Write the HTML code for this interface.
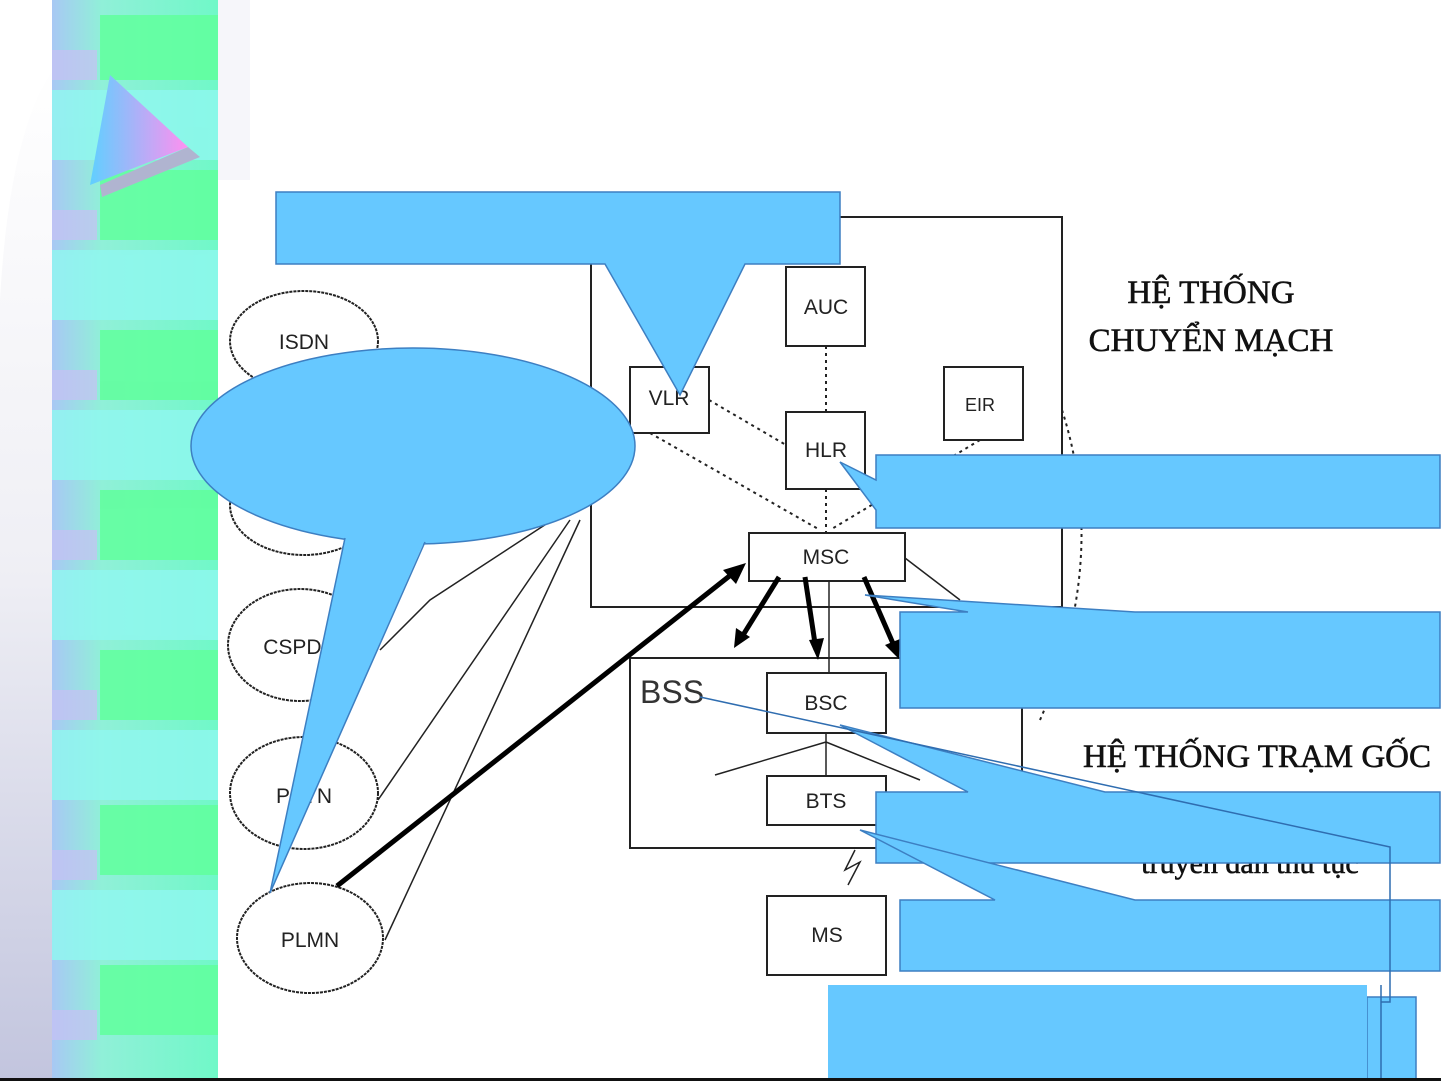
<!DOCTYPE html>
<html><head><meta charset="utf-8"><style>
html,body{margin:0;padding:0;background:#fff;}
svg{display:block;}
</style></head><body>
<svg width="1441" height="1081" viewBox="0 0 1441 1081" xmlns="http://www.w3.org/2000/svg" font-family="Liberation Sans, sans-serif">
<defs>
<linearGradient id="lg" x1="0" y1="0" x2="0" y2="1">
<stop offset="0" stop-color="#ffffff"/><stop offset="0.5" stop-color="#e8e8f0"/><stop offset="1" stop-color="#a8acd0"/>
</linearGradient>
<linearGradient id="tri" x1="0" y1="0" x2="1" y2="0">
<stop offset="0" stop-color="#60cfff"/><stop offset="1" stop-color="#ff90f0"/>
</linearGradient>
<linearGradient id="sb" x1="0" y1="0" x2="1" y2="0">
<stop offset="0" stop-color="#a8c8f4"/><stop offset="0.3" stop-color="#90f0d8"/><stop offset="1" stop-color="#70f8c8"/>
</linearGradient>
</defs>
<path d="M0 1081 L0 300 Q10 120 60 60 L230 60 Q250 120 250 180 L218 180 L218 1081 Z" fill="url(#lg)" opacity="0.7"/>
<rect x="52" y="0" width="166" height="1081" fill="url(#sb)"/>
<g fill="#60ff9c" opacity="0.85">
<rect x="100" y="15" width="118" height="65"/><rect x="100" y="170" width="118" height="70"/>
<rect x="100" y="330" width="118" height="70"/><rect x="100" y="490" width="118" height="70"/>
<rect x="100" y="650" width="118" height="70"/><rect x="100" y="805" width="118" height="70"/>
<rect x="100" y="965" width="118" height="70"/>
</g>
<g fill="#90f8f0" opacity="0.8">
<rect x="52" y="90" width="166" height="70"/><rect x="52" y="250" width="166" height="70"/>
<rect x="52" y="410" width="166" height="70"/><rect x="52" y="570" width="166" height="70"/>
<rect x="52" y="730" width="166" height="70"/><rect x="52" y="890" width="166" height="70"/>
</g>
<g fill="#c8c0f4" opacity="0.7">
<rect x="52" y="50" width="45" height="30"/><rect x="52" y="210" width="45" height="30"/><rect x="52" y="370" width="45" height="30"/>
<rect x="52" y="530" width="45" height="30"/><rect x="52" y="690" width="45" height="30"/><rect x="52" y="850" width="45" height="30"/><rect x="52" y="1010" width="45" height="30"/>
</g>
<rect x="218" y="0" width="32" height="180" fill="#f6f6fa"/>
<polygon points="102,197 200,157 188,147 100,185" fill="#b0b4d0"/>
<polygon points="90,185 110,75 188,147" fill="url(#tri)"/>

<g fill="none" stroke="#222" stroke-width="2">
<rect x="591" y="217" width="471" height="390"/>
<rect x="786" y="267" width="79" height="79"/>
<rect x="630" y="367" width="79" height="66"/>
<rect x="786" y="412" width="79" height="77"/>
<rect x="944" y="367" width="79" height="73"/>
<rect x="749" y="533" width="156" height="48"/>
<path d="M1022 848 L630 848 L630 658 L1022 658 L1022 848"/>
<rect x="767" y="673" width="119" height="60"/>
<rect x="767" y="776" width="119" height="49"/>
<rect x="767" y="896" width="119" height="79"/>
<ellipse cx="304" cy="341" rx="74" ry="50" stroke-dasharray="3,1"/>
<ellipse cx="304" cy="505" rx="74" ry="50" stroke-dasharray="3,1"/>
<ellipse cx="300" cy="645" rx="72" ry="56" stroke-dasharray="3,1"/>
<ellipse cx="304" cy="793" rx="74" ry="56" stroke-dasharray="3,1"/>
<ellipse cx="310" cy="938" rx="73" ry="55" stroke-dasharray="3,1"/>
</g>
<g stroke="#222" stroke-width="1.5" fill="none">
<path d="M380 650 L430 600 L560 515"/>
<path d="M378 800 L570 520"/>
<path d="M385 940 L580 520"/>
<path d="M829 581 L829 673"/>
<path d="M826 733 L826 776 M826 742 L715 775 M826 742 L920 780"/>
<path d="M905 558 L960 600"/>
<path d="M855 850 L845 870 L860 862 L848 885"/>
</g>
<g stroke="#222" stroke-width="2" stroke-dasharray="3,4" fill="none">
<path d="M826 346 L826 412"/>
<path d="M709 400 L786 445"/>
<path d="M650 433 L820 530"/>
<path d="M826 489 L826 533"/>
<path d="M980 440 L830 530"/>
<path d="M1062 410 Q1110 560 1040 720"/>
</g>
<g font-size="21" fill="#222" text-anchor="middle">
<text x="826" y="314">AUC</text>
<text x="669" y="405">VLR</text>
<text x="826" y="457">HLR</text>
<text x="980" y="411" font-size="18">EIR</text>
<text x="826" y="564">MSC</text>
<text x="826" y="710">BSC</text>
<text x="826" y="808">BTS</text>
<text x="827" y="942">MS</text>
<text x="304" y="349">ISDN</text>
<text x="300" y="654">CSPDN</text>
<text x="304" y="803">PSTN</text>
<text x="310" y="947">PLMN</text>
</g>
<text x="640" y="703" font-size="32" fill="#333">BSS</text>
<g font-family="Liberation Serif, serif" font-size="33" fill="#111" text-anchor="middle" stroke="#111" stroke-width="0.6">
<text x="1211" y="303">HỆ THỐNG</text>
<text x="1211" y="351">CHUYỂN MẠCH</text>
<text x="1257" y="767">HỆ THỐNG TRẠM GỐC</text>
<text x="1250" y="873" font-size="30">truyền dẫn thủ tục</text>
</g>
<g stroke="#000" stroke-width="5" fill="none">
<path d="M337 886 L732 574"/>
<path d="M779 577 L740 640"/>
<path d="M805 577 L816 650"/>
<path d="M864 577 L895 648"/>
</g>
<g fill="#000">
<polygon points="746,563 723,570 736,584"/>
<polygon points="734,648 736,628 750,637"/>
<polygon points="818,660 809,640 824,638"/>
<polygon points="899,659 885,645 900,639"/>
</g>
<g fill="#66c8ff" stroke="#3d7fc2" stroke-width="1.5">
<path d="M276 192 L840 192 L840 264 L745 264 L680 395 L605 264 L276 264 Z"/>
<ellipse cx="413" cy="446" rx="222" ry="98"/>
<polygon points="345,536 270,893 425,540" stroke="none"/>
<path d="M345 538 L270 893 L425 542" fill="none"/>
<path d="M876 455 L1440 455 L1440 528 L876 528 L876 510 L840 462 L876 480 Z"/>
<path d="M900 612 L968 612 L865 595 L1135 612 L1440 612 L1440 708 L900 708 Z"/>
<path d="M876 792 L968 792 L840 725 L1105 792 L1440 792 L1440 863 L876 863 Z"/>
<path d="M900 900 L995 900 L860 830 L1135 900 L1440 900 L1440 971 L900 971 Z"/>
<rect x="1367" y="997" width="49" height="84"/>
<rect x="828" y="985" width="539" height="96" stroke="none"/>
</g>
<g stroke="#2f6db0" stroke-width="1.5" fill="none">
<path d="M700 697 L1390 847 L1390 1002 L1381 1002"/>
<path d="M1381 985 L1381 1081"/>
</g>
<rect x="0" y="1078" width="1441" height="3" fill="#111"/>
</svg>
</body></html>
